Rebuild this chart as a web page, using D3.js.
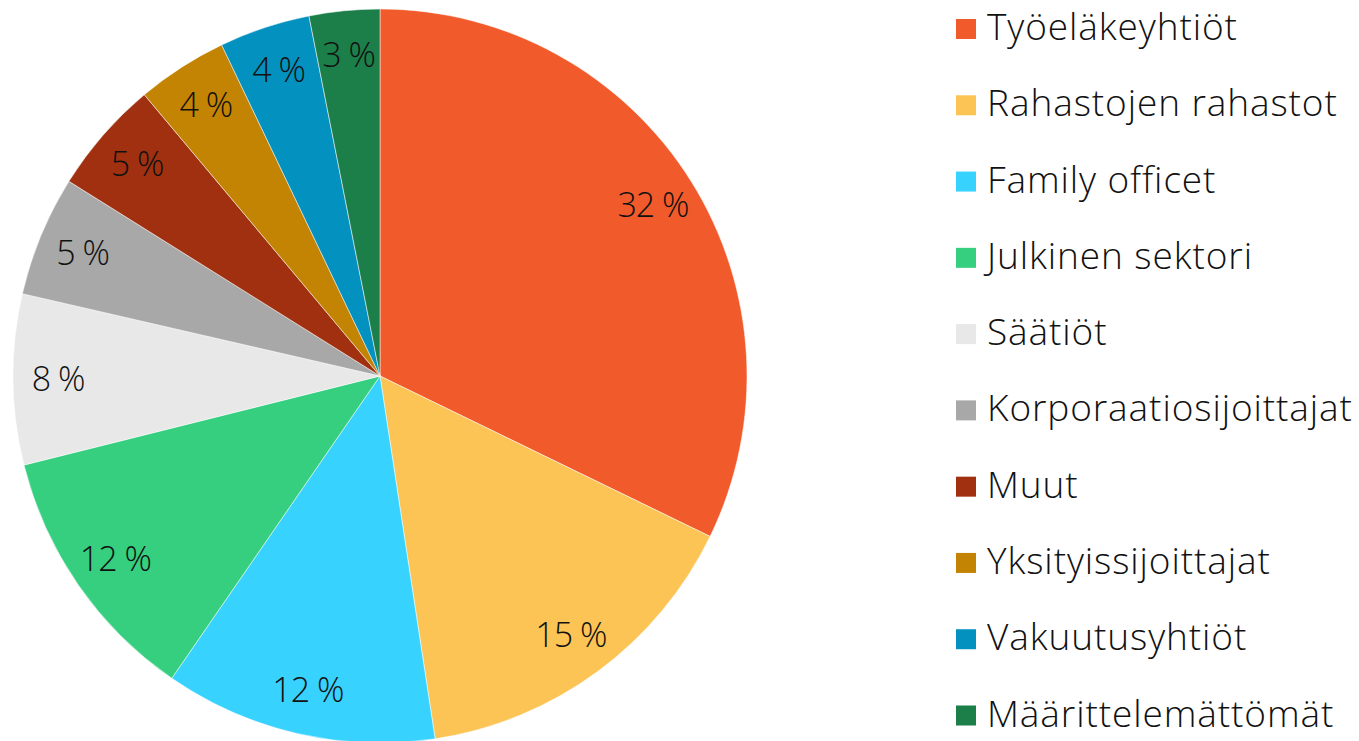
<!DOCTYPE html>
<html>
<head>
<meta charset="utf-8">
<script src="https://cdn.jsdelivr.net/npm/d3@7"></script>
<style>
  body { margin: 0; background: #fff; }
  text { font-family: "Open Sans", sans-serif; font-weight: 300; fill: #111; }
</style>
</head>
<body>
<div id="chart"></div>
<script>
// data (shares, labels as printed)
var categories = ["Työeläkeyhtiöt", "Rahastojen rahastot", "Family officet", "Julkinen sektori",
  "Säätiöt", "Korporaatiosijoittajat", "Muut", "Yksityissijoittajat", "Vakuutusyhtiöt", "Määrittelemättömät"];
var shares = [32.2, 15.4, 12.0, 11.5, 7.5, 5.3, 5.0, 4.0, 4.0, 3.1];
var labels = ["32 %", "15 %", "12 %", "12 %", "8 %", "5 %", "5 %", "4 %", "4 %", "3 %"];
var colors = ["#F15A2B", "#FBC454", "#38D2FF", "#35CF7F", "#E8E8E8",
  "#A8A8A8", "#A0300F", "#C48403", "#0391BF", "#1C7F4A"];

var width = 1359, height = 741;
var cx = 380, cy = 376, radius = 367;

var data = categories.map(function(c, i) {
  return {name: c, value: shares[i], label: labels[i], color: colors[i]};
});

var svg = d3.select("#chart").append("svg")
  .attr("width", width)
  .attr("height", height);

var pie = d3.pie().sort(null).value(function(d) { return d.value; });
var arc = d3.arc().innerRadius(0).outerRadius(radius);
var labelArc = d3.arc().innerRadius(322).outerRadius(322);

var g = svg.append("g").attr("transform", "translate(" + cx + "," + cy + ")");

var slices = g.selectAll("g.slice").data(pie(data)).enter().append("g").attr("class", "slice");

slices.append("path")
  .attr("d", arc)
  .attr("fill", function(d) { return d.data.color; })
  .attr("stroke", "#fff")
  .attr("stroke-width", 0.5);

slices.append("text")
  .attr("transform", function(d) { return "translate(" + labelArc.centroid(d) + ")"; })
  .attr("text-anchor", "middle")
  .attr("dy", "0.35em")
  .style("font-size", "34px")
  .style("letter-spacing", "-1px")
  .text(function(d) { return d.data.label; });

// legend
var legend = svg.append("g").attr("transform", "translate(956,29)");
var rowY = d3.scaleLinear().domain([0, categories.length - 1]).range([0, 686.5]);

var rows = legend.selectAll("g").data(data).enter().append("g")
  .attr("transform", function(d, i) { return "translate(0," + rowY(i) + ")"; });

rows.append("rect")
  .attr("x", 0).attr("y", -10)
  .attr("width", 20).attr("height", 20)
  .attr("fill", function(d) { return d.color; });

rows.append("text")
  .attr("x", 31)
  .attr("y", 11)
  .style("font-size", "37px")
  .style("letter-spacing", "0.9px")
  .text(function(d) { return d.name; });
</script>
</body>
</html>
